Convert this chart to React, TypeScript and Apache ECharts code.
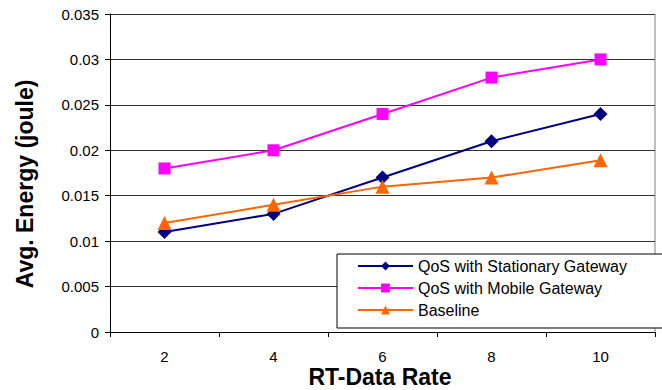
import React, { useEffect, useRef } from "react";
import * as echarts from "echarts";

const categories = ["2", "4", "6", "8", "10"];
const stationary = [0.011, 0.013, 0.017, 0.021, 0.024];
const mobile = [0.018, 0.02, 0.024, 0.028, 0.03];
const baseline = [0.012, 0.014, 0.016, 0.017, 0.0189];
const xTitle = "RT-Data Rate";
const yTitle = "Avg. Energy (joule)";

const FONT = "Liberation Sans, Arial, sans-serif";

export default function App() {
  const ref = useRef<HTMLDivElement>(null);
  useEffect(() => {
    document.body.style.margin = "0";
    const chart = echarts.init(ref.current!, null, { renderer: "svg" });
    chart.setOption({
      animation: false,
      backgroundColor: "#fff",
      textStyle: { fontFamily: FONT },
      grid: { left: 110, top: 14, width: 545, height: 318 },
      xAxis: {
        type: "category",
        data: categories,
        boundaryGap: true,
        axisLine: { lineStyle: { color: "#000", width: 1 } },
        axisTick: { show: true, length: 5, inside: false, lineStyle: { color: "#000" } },
        axisLabel: { fontSize: 15, color: "#000", margin: 17, fontFamily: FONT },
        splitLine: { show: false },
      },
      yAxis: {
        type: "value",
        min: 0,
        max: 0.035,
        interval: 0.005,
        axisLine: { show: true, lineStyle: { color: "#000", width: 1 } },
        axisTick: { show: true, length: 5, lineStyle: { color: "#000" } },
        axisLabel: { fontSize: 15, color: "#000", margin: 11, fontFamily: FONT },
        splitLine: { show: true, lineStyle: { color: "#333", width: 1 } },
      },
      graphic: [
        {
          type: "line",
          shape: { x1: 655, y1: 14, x2: 655, y2: 332 },
          style: { stroke: "#808080", lineWidth: 1 },
          silent: true,
        },
        {
          type: "text",
          x: 25,
          y: 184,
          rotation: Math.PI / 2,
          style: {
            text: yTitle,
            fontSize: 23,
            fontWeight: "bold",
            fontFamily: FONT,
            fill: "#000",
            align: "center",
            verticalAlign: "middle",
          },
          silent: true,
        },
        {
          type: "text",
          x: 380,
          y: 377,
          style: {
            text: xTitle,
            fontSize: 23,
            fontWeight: "bold",
            fontFamily: FONT,
            fill: "#000",
            align: "center",
            verticalAlign: "middle",
          },
          silent: true,
        },
      ],
      legend: {
        orient: "vertical",
        left: 337,
        top: 254,
        padding: [4, 53, 10, 20],
        itemWidth: 55,
        itemHeight: 11,
        itemGap: 6,
        backgroundColor: "#fff",
        borderColor: "#000",
        borderWidth: 1,
        textStyle: { fontSize: 16, lineHeight: 16, color: "#000", fontFamily: FONT },
        data: ["QoS with Stationary Gateway", "QoS with Mobile Gateway", "Baseline"],
      },
      series: [
        {
          name: "QoS with Stationary Gateway",
          type: "line",
          data: stationary,
          symbol: "diamond",
          symbolSize: 14,
          color: "#000080",
          lineStyle: { width: 2, color: "#000080" },
          itemStyle: { color: "#000080" },
          z: 3,
        },
        {
          name: "QoS with Mobile Gateway",
          type: "line",
          data: mobile,
          symbol: "rect",
          symbolSize: 12,
          color: "#FF00FF",
          lineStyle: { width: 2, color: "#FF00FF" },
          itemStyle: { color: "#FF00FF" },
          z: 3,
        },
        {
          name: "Baseline",
          type: "line",
          data: baseline,
          symbol: "triangle",
          symbolSize: 14,
          color: "#FF6600",
          lineStyle: { width: 2, color: "#FF6600" },
          itemStyle: { color: "#FF6600" },
          z: 4,
        },
      ],
    });
    return () => chart.dispose();
  }, []);
  return <div ref={ref} style={{ width: 662, height: 390 }} />;
}
